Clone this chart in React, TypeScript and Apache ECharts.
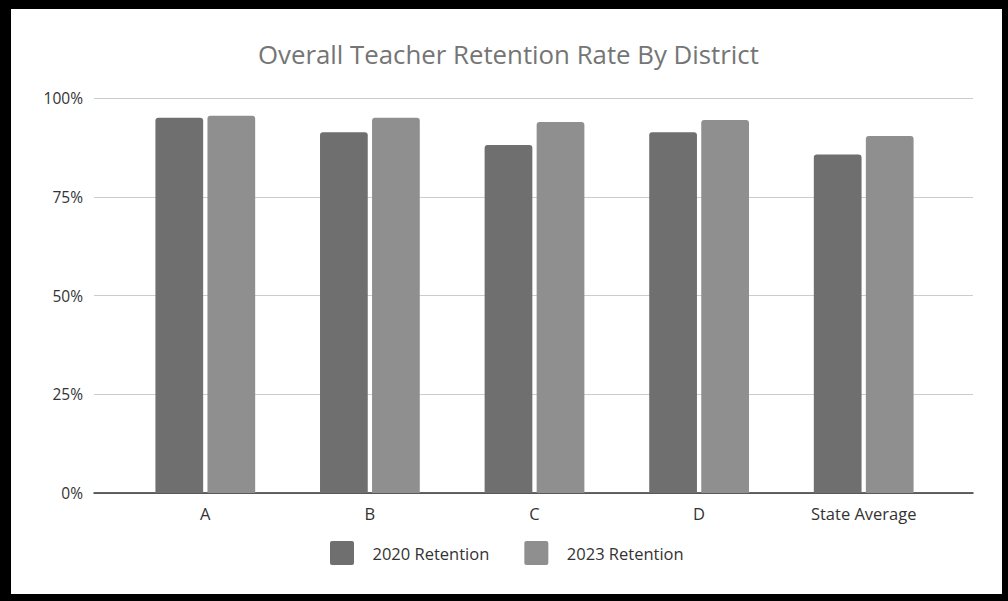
import React, { useEffect, useRef } from "react";
import * as echarts from "echarts";

const categories = ["A", "B", "C", "D", "State Average"];
const retention2020 = [0.95, 0.913, 0.881, 0.913, 0.857];
const retention2023 = [0.955, 0.95, 0.939, 0.944, 0.904];
const yTicks = [0, 0.25, 0.5, 0.75, 1];

const FONT = "Open Sans";
const SQUARE = "path://M2,0L22,0Q24,0 24,2L24,22Q24,24 22,24L2,24Q0,24 0,22L0,2Q0,0 2,0Z";

export default function App() {
  const ref = useRef<HTMLDivElement>(null);
  useEffect(() => {
    document.body.style.margin = "0";
    const chart = echarts.init(ref.current!, undefined, { renderer: "svg" });
    const W = 1008;
    const H = 601;
    chart.setOption({
      animation: false,
      backgroundColor: "#ffffff",
      title: {
        text: "Overall Teacher Retention Rate By District",
        left: 253,
        top: 36,
        textStyle: { fontFamily: FONT, fontSize: 25.8, fontWeight: "normal", color: "#757575" },
      },
      legend: {
        data: ["2020 Retention", "2023 Retention"],
        left: 325,
        top: 536,
        icon: SQUARE,
        itemWidth: 25,
        itemHeight: 24,
        itemGap: 35,
        textStyle: { fontFamily: FONT, fontSize: 16.5, color: "#333", padding: [0, 0, 0, 13] },
      },
      grid: [
        { left: 94, right: W - 973, top: 98, bottom: H - 493 },
        { left: 123, width: 823, top: 98, bottom: H - 493 },
      ],
      xAxis: [
        {
          gridIndex: 0,
          type: "value",
          min: 0,
          max: 1,
          axisLine: { show: true, lineStyle: { color: "#333", width: 1.5 } },
          axisTick: { show: false },
          axisLabel: { show: false },
          splitLine: { show: false },
        },
        {
          gridIndex: 1,
          type: "category",
          data: categories,
          axisLine: { show: false },
          axisTick: { show: false },
          axisLabel: { fontFamily: FONT, fontSize: 16.5, color: "#333", margin: 12 },
        },
      ],
      yAxis: [
        {
          gridIndex: 0,
          type: "value",
          min: yTicks[0],
          max: yTicks[yTicks.length - 1],
          interval: 0.25,
          axisLine: { show: false },
          axisTick: { show: false },
          axisLabel: {
            fontFamily: FONT,
            fontSize: 15.5,
            color: "#333",
            margin: 11,
            formatter: (v: number) => `${Math.round(v * 100)}%`,
          },
          splitLine: { lineStyle: { color: "#cccccc", width: 1 } },
        },
        {
          gridIndex: 1,
          type: "value",
          min: 0,
          max: 1,
          show: false,
        },
      ],
      series: [
        {
          name: "2020 Retention",
          type: "bar",
          xAxisIndex: 1,
          yAxisIndex: 1,
          data: retention2020,
          barWidth: "29%",
          barGap: "9%",
          itemStyle: { color: "#6f6f6f", borderRadius: [3, 3, 0, 0] },
        },
        {
          name: "2023 Retention",
          type: "bar",
          xAxisIndex: 1,
          yAxisIndex: 1,
          data: retention2023,
          barWidth: "29%",
          barGap: "9%",
          itemStyle: { color: "#8f8f8f", borderRadius: [3, 3, 0, 0] },
        },
      ],
      graphic: [
        { type: "rect", shape: { x: 0, y: 0, width: W, height: 9 }, style: { fill: "#000" }, z: 100 },
        { type: "rect", shape: { x: 0, y: 0, width: 11, height: H }, style: { fill: "#000" }, z: 100 },
        { type: "rect", shape: { x: W - 6, y: 0, width: 6, height: H }, style: { fill: "#000" }, z: 100 },
        { type: "rect", shape: { x: 0, y: H - 7, width: W, height: 7 }, style: { fill: "#000" }, z: 100 },
      ],
    });
    return () => chart.dispose();
  }, []);
  return <div ref={ref} style={{ width: 1008, height: 601 }} />;
}
